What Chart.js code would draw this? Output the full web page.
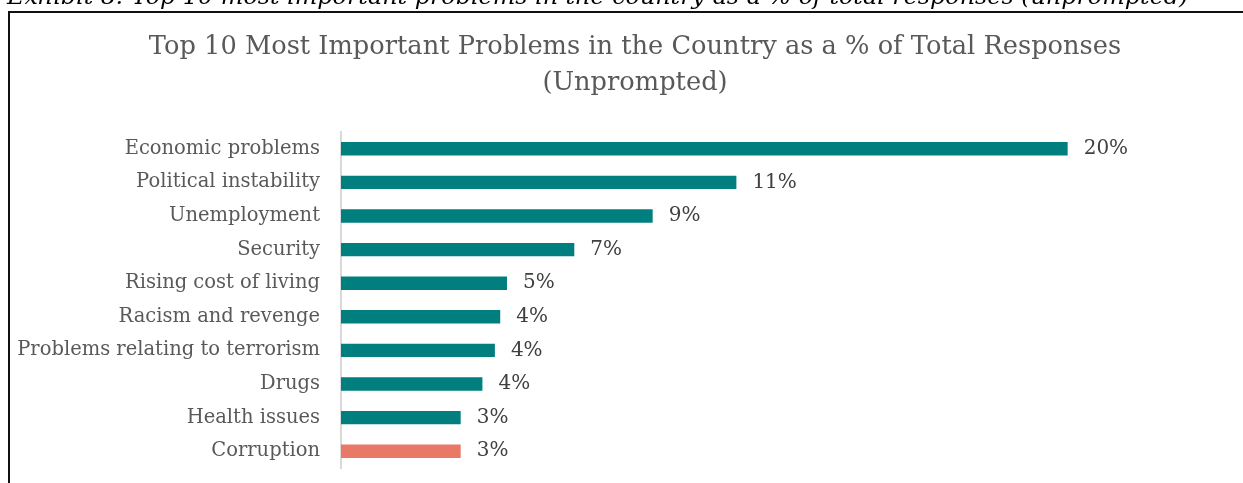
<!DOCTYPE html>
<html>
<head>
<meta charset="utf-8">
<title>Top 10 Most Important Problems</title>
<script src="https://cdn.jsdelivr.net/npm/chart.js@4.4.1/dist/chart.umd.min.js"></script>
<style>
body { margin: 0; background: #fff; overflow: hidden; }
#caption { position: absolute; left: 7px; top: -14px; font: italic 22px "DejaVu Serif", serif; line-height: 22px; white-space: nowrap; color: #000; transform-origin: 0 0; z-index: 2; }
#frame { position: absolute; left: 8px; top: 11px; width: 1300px; height: 600px; border-left: 2px solid #111; border-top: 2px solid #111; }
#problemsChart { position: absolute; left: 0; top: 0; z-index: 1; }
</style>
</head>
<body>

<div id="caption">Exhibit 8: Top 10 most important problems in the country as a % of total responses (unprompted)</div>
<div id="frame"></div>
<canvas id="problemsChart" width="1271" height="483"></canvas>

<script>
// survey answers, share of all responses (%)
const categories = [
    "Economic problems",
    "Political instability",
    "Unemployment",
    "Security",
    "Rising cost of living",
    "Racism and revenge",
    "Problems relating to terrorism",
    "Drugs",
    "Health issues",
    "Corruption"
];
const shares = [20.4, 11.1, 8.75, 6.55, 4.66, 4.47, 4.32, 3.97, 3.36, 3.36];
const highlighted = ["Corruption"];

const TEAL = "#007f7e";
const SALMON = "#ea7866";
const SERIF = "'DejaVu Serif', serif";

// stretch the caption line to the page width
const cap = document.getElementById("caption");
cap.style.transform = "scaleX(" + (1181 / cap.offsetWidth) + ")";

// "20%" etc. at the end of every bar
const valueLabels = {
    id: "valueLabels",
    afterDatasetsDraw(chart) {
        const ctx = chart.ctx;
        const meta = chart.getDatasetMeta(0);
        ctx.save();
        ctx.font = "20px " + SERIF;
        ctx.fillStyle = "#404040";
        ctx.textBaseline = "middle";
        ctx.textAlign = "left";
        meta.data.forEach(function(bar, i) {
            ctx.fillText(Math.round(shares[i]) + "%", bar.x + 16, bar.y);
        });
        ctx.restore();
    }
};

new Chart(document.getElementById("problemsChart"), {
    type: "bar",
    data: {
        labels: categories,
        datasets: [{
            data: shares,
            backgroundColor: function(c) {
                return highlighted.indexOf(categories[c.dataIndex]) >= 0 ? SALMON : TEAL;
            },
            borderWidth: 0,
            barPercentage: 0.4,
            categoryPercentage: 1
        }]
    },
    options: {
        indexAxis: "y",
        responsive: false,
        animation: false,
        layout: {
            padding: { left: 10, right: 11, top: 0, bottom: 15 }
        },
        plugins: {
            legend: { display: false },
            tooltip: { enabled: false },
            title: {
                display: true,
                text: ["Top 10 Most Important Problems in the Country as a % of Total Responses", "(Unprompted)"],
                color: "#595959",
                font: { family: SERIF, size: 25.7, weight: "normal", lineHeight: "36px" },
                padding: { top: 29, bottom: 31 }
            }
        },
        scales: {
            x: {
                display: false,
                min: 0,
                max: 25.8
            },
            y: {
                grid: { display: false, drawTicks: false },
                border: { display: true, color: "#d9d9d9", width: 2 },
                ticks: {
                    color: "#595959",
                    padding: 21,
                    autoSkip: false,
                    font: { family: SERIF, size: 19.5 }
                },
                afterFit: function(scale) {
                    scale.width = 331;
                    // labels sit inside their bands, no extra room needed above/below
                    scale.paddingTop = 0;
                    scale.paddingBottom = 0;
                }
            }
        }
    },
    plugins: [valueLabels]
});
</script>
</body>
</html>
